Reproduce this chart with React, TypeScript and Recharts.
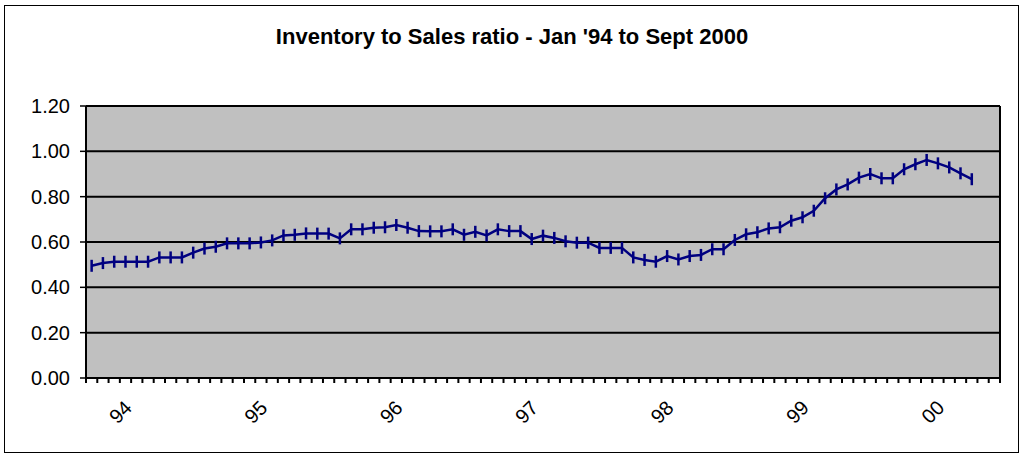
import React from "react";
import {
  LineChart,
  Line,
  XAxis,
  YAxis,
  CartesianGrid,
  ReferenceLine,
} from "recharts";

// monthly inventory/sales ratio, Jan '94 onwards (axis runs to Sept 2000)
const RATIO = [
  0.495, 0.507, 0.513, 0.513, 0.513, 0.513, 0.532, 0.532, 0.532, 0.553, 0.571, 0.579,
  0.594, 0.594, 0.594, 0.598, 0.607, 0.629, 0.632, 0.638, 0.637, 0.637, 0.616, 0.656,
  0.656, 0.663, 0.665, 0.675, 0.663, 0.648, 0.647, 0.647, 0.656, 0.632, 0.645, 0.629,
  0.656, 0.648, 0.648, 0.613, 0.628, 0.618, 0.603, 0.597, 0.597, 0.574, 0.574, 0.574,
  0.532, 0.521, 0.513, 0.538, 0.523, 0.538, 0.543, 0.568, 0.568, 0.609, 0.634, 0.643,
  0.66, 0.665, 0.694, 0.709, 0.738, 0.793, 0.832, 0.854, 0.884, 0.9, 0.881, 0.881,
  0.921, 0.943, 0.962, 0.947, 0.929, 0.903, 0.877,
];

const MONTH_COUNT = 81; // Jan 94 .. Sep 00
const YEAR_LABELS = ["94", "95", "96", "97", "98", "99", "00"];
const YEAR_TICKS = [4, 16, 28, 40, 52, 64, 76];
const Y_TICKS = [0, 0.2, 0.4, 0.6, 0.8, 1.0, 1.2];

const FONT = "Arial, 'Liberation Sans', sans-serif";
const NAVY = "#000080";

const data = RATIO.map((v, i) => ({ x: i + 0.5, ratio: v }));
const xTicks = Array.from({ length: MONTH_COUNT + 1 }, (_, i) => i);

const YearTick = (props: any) => {
  const { x, y, payload } = props;
  const idx = YEAR_TICKS.indexOf(payload.value);
  if (idx < 0) return <g />;
  const ax = x + 2;
  const ay = y + 26;
  return (
    <text
      x={ax}
      y={ay}
      transform={`rotate(-45 ${ax} ${ay})`}
      textAnchor="end"
      fontSize={20}
      fontFamily={FONT}
      fill="#000"
    >
      {YEAR_LABELS[idx]}
    </text>
  );
};

const DashDot = (props: any) => {
  const { cx, cy, index } = props;
  if (cx == null || cy == null) return <g key={`d${index}`} />;
  return (
    <line
      key={`d${index}`}
      x1={cx}
      x2={cx}
      y1={cy - 6}
      y2={cy + 6}
      stroke={NAVY}
      strokeWidth={2.5}
    />
  );
};

export default function App() {
  return (
    <div
      style={{
        position: "absolute",
        left: 0,
        top: 0,
        width: 1024,
        height: 454,
        background: "#fff",
      }}
    >
      <div
        style={{
          position: "absolute",
          left: 4,
          top: 5,
          width: 1015,
          height: 448,
          boxSizing: "border-box",
          border: "1px solid #000",
        }}
      />
      <div
        style={{
          position: "absolute",
          left: 0,
          top: 24,
          width: 1024,
          textAlign: "center",
          fontFamily: FONT,
          fontWeight: "bold",
          fontSize: 22,
          lineHeight: "26px",
        }}
      >
        Inventory to Sales ratio - Jan '94 to Sept 2000
      </div>
      <div style={{ position: "absolute", left: 0, top: 0 }}>
        <LineChart
          width={1024}
          height={454}
          data={data}
          margin={{ top: 106, right: 24, bottom: 16, left: 10 }}
        >
          <CartesianGrid
            vertical={false}
            fill="#C0C0C0"
            fillOpacity={1}
            stroke="#000"
            strokeWidth={2}
          />
          <XAxis
            type="number"
            dataKey="x"
            domain={[0, MONTH_COUNT]}
            ticks={xTicks}
            interval={0}
            height={60}
            stroke="#000"
            axisLine={{ stroke: "#000", strokeWidth: 2 }}
            tickLine={{ stroke: "#000", strokeWidth: 2 }}
            tickSize={5}
            tickMargin={0}
            tick={<YearTick />}
          />
          <YAxis
            domain={[0, 1.2]}
            ticks={Y_TICKS}
            width={76}
            stroke="#000"
            axisLine={{ stroke: "#000", strokeWidth: 2 }}
            tickLine={{ stroke: "#000", strokeWidth: 1.5 }}
            tickSize={6}
            tickMargin={10}
            tick={{ fontSize: 20, fontFamily: FONT, fill: "#000" }}
            tickFormatter={(v: number) => v.toFixed(2)}
          />
          <ReferenceLine x={MONTH_COUNT} stroke="#000" strokeWidth={2} />
          <Line
            type="linear"
            dataKey="ratio"
            stroke={NAVY}
            strokeWidth={2.5}
            dot={DashDot}
            activeDot={false}
            isAnimationActive={false}
          />
        </LineChart>
      </div>
    </div>
  );
}
